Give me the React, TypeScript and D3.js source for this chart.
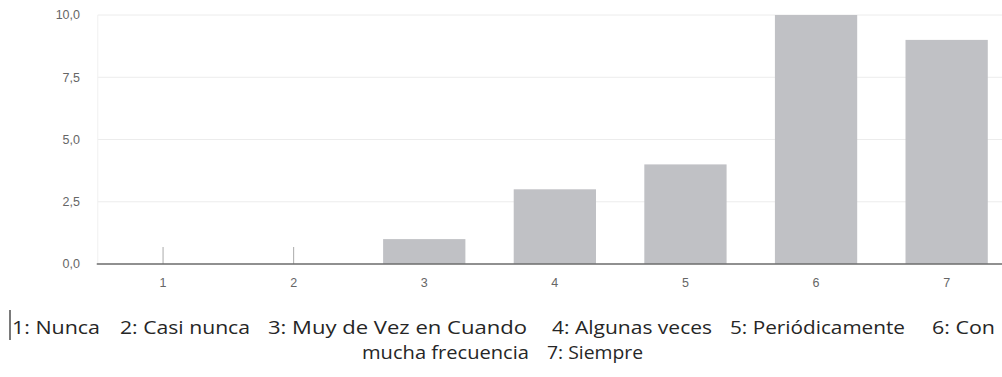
import React from "react";
import * as d3 from "d3";

const categories = ["1", "2", "3", "4", "5", "6", "7"];
const counts = [0, 0, 1, 3, 4, 10, 9];
const yTicks = [0, 2.5, 5, 7.5, 10];

const legendLine1 = [
  "1: Nunca",
  "2: Casi nunca",
  "3: Muy de Vez en Cuando",
  "4: Algunas veces",
  "5: Periódicamente",
  "6: Con",
];
const legendLine2 = ["mucha frecuencia", "7: Siempre"];

const W = 1002;
const H = 377;

// horizontal extents of each legend phrase
const line1Spans: [number, number][] = [
  [12, 100],
  [120, 250],
  [268, 527],
  [552, 712],
  [730, 905],
  [932, 995],
];
const line2Spans: [number, number][] = [
  [362, 529],
  [547, 643],
];

export default function App() {
  const plotLeft = 97.75;
  const plotTop = 15;
  const plotBottom = 264;

  const x = d3
    .scaleBand<string>()
    .domain(categories)
    .range([plotLeft, plotLeft + 914.2])
    .paddingInner(0.37)
    .paddingOuter(0.185);

  const y = d3.scaleLinear().domain([0, 10]).range([plotBottom, plotTop]);
  const fmt = (v: number) => d3.format(".1f")(v).replace(".", ",");

  const axisFont = "Arial, 'Liberation Sans', sans-serif";
  const legendFont = "'Open Sans', 'Noto Sans', sans-serif";

  return (
    <svg
      width={W}
      height={H}
      style={{ position: "absolute", left: 0, top: 0, background: "#fff" }}
    >
      {/* grid */}
      {yTicks.map((t) => (
        <line
          key={"g" + t}
          x1={plotLeft}
          x2={W}
          y1={y(t)}
          y2={y(t)}
          stroke="#ececec"
          strokeWidth={1}
        />
      ))}
      <line
        x1={plotLeft}
        x2={plotLeft}
        y1={plotTop}
        y2={plotBottom}
        stroke="#f0f0f0"
        strokeWidth={1}
      />
      {yTicks.map((t) => (
        <text
          key={"yl" + t}
          x={80}
          y={y(t)}
          dy="0.35em"
          textAnchor="end"
          fontFamily={axisFont}
          fontSize={12.5}
          fill="#666"
        >
          {fmt(t)}
        </text>
      ))}

      {/* category ticks */}
      {categories.map((c) => (
        <line
          key={"t" + c}
          x1={x(c)! + x.bandwidth() / 2}
          x2={x(c)! + x.bandwidth() / 2}
          y1={plotBottom - 17}
          y2={plotBottom}
          stroke="#aaa"
          strokeWidth={1}
        />
      ))}

      {/* bars */}
      {categories.map((c, i) => (
        <rect
          key={"b" + c}
          x={x(c)!}
          y={y(counts[i])}
          width={x.bandwidth()}
          height={plotBottom - y(counts[i])}
          fill="#c0c1c5"
        />
      ))}

      {/* baseline */}
      <line
        x1={plotLeft - 1}
        x2={W}
        y1={plotBottom}
        y2={plotBottom}
        stroke="#6e6e6e"
        strokeWidth={1.5}
      />

      {categories.map((c) => (
        <text
          key={"xl" + c}
          x={x(c)! + x.bandwidth() / 2}
          y={287}
          textAnchor="middle"
          fontFamily={axisFont}
          fontSize={12.5}
          fill="#666"
        >
          {c}
        </text>
      ))}

      {/* legend text */}
      <line x1={10} x2={10} y1={310} y2={340} stroke="#333" strokeWidth={1.3} />
      {legendLine1.map((s, i) => (
        <text
          key={"l1" + i}
          x={line1Spans[i][0]}
          y={334}
          textLength={line1Spans[i][1] - line1Spans[i][0]}
          lengthAdjust="spacingAndGlyphs"
          fontFamily={legendFont}
          fontSize={19}
          fill="#262626"
        >
          {s}
        </text>
      ))}
      {legendLine2.map((s, i) => (
        <text
          key={"l2" + i}
          x={line2Spans[i][0]}
          y={359}
          textLength={line2Spans[i][1] - line2Spans[i][0]}
          lengthAdjust="spacingAndGlyphs"
          fontFamily={legendFont}
          fontSize={19}
          fill="#262626"
        >
          {s}
        </text>
      ))}
    </svg>
  );
}
